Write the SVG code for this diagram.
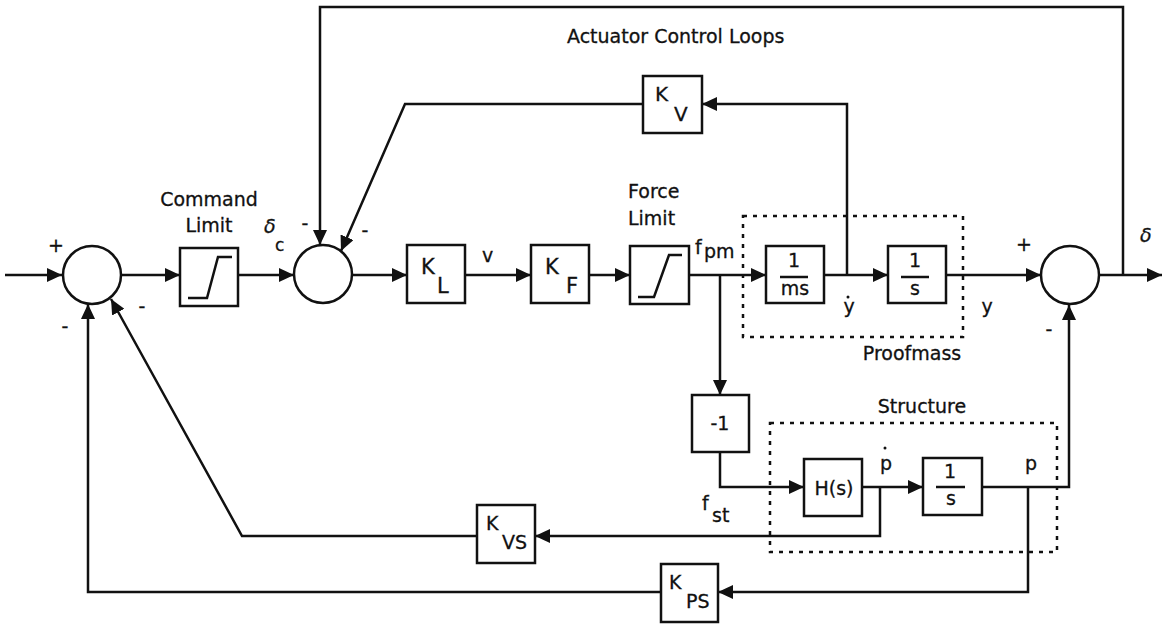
<svg xmlns="http://www.w3.org/2000/svg" width="1165" height="625" viewBox="0 0 1165 625">
<style>
.bx{fill:#fff;stroke:#111;stroke-width:2.5}
.sum{fill:#fff;stroke:#111;stroke-width:2.5}
.ln{fill:none;stroke:#111;stroke-width:2.5}
.dot{fill:none;stroke:#111;stroke-width:2.5;stroke-dasharray:4 6}
text{font-family:"DejaVu Sans",Verdana,sans-serif;font-size:19px;fill:#111;stroke:#111;stroke-width:0.3}
.sm{font-size:17px}
.k{font-size:21px}
.k2{font-size:20px}
.c{text-anchor:middle}
.g{font-family:"DejaVu Sans",sans-serif;font-style:italic}
</style>
<defs>
<marker id="ah" markerUnits="userSpaceOnUse" markerWidth="16" markerHeight="14" refX="15" refY="7" orient="auto">
<path d="M0,0 L15,7 L0,14 z" fill="#111"/>
</marker>
</defs>
<rect width="1165" height="625" fill="#fff"/>

<g id="connectors">
<path class="ln" d="M5,275 H62" marker-end="url(#ah)"/>
<path class="ln" d="M121,275 H180" marker-end="url(#ah)"/>
<path class="ln" d="M238,275 H294" marker-end="url(#ah)"/>
<path class="ln" d="M352,275 H407" marker-end="url(#ah)"/>
<path class="ln" d="M465,275 H531" marker-end="url(#ah)"/>
<path class="ln" d="M589,275 H630" marker-end="url(#ah)"/>
<path class="ln" d="M689,275 H766" marker-end="url(#ah)"/>
<path class="ln" d="M720,275 V395" marker-end="url(#ah)"/>
<path class="ln" d="M824,275 H888" marker-end="url(#ah)"/>
<path class="ln" d="M946,275 H1041" marker-end="url(#ah)"/>
<path class="ln" d="M1099,275 H1162" marker-end="url(#ah)"/>
<path class="ln" d="M1123,275 V7 H320 V245" marker-end="url(#ah)"/>
<path class="ln" d="M847,275 V104 H702" marker-end="url(#ah)"/>
<path class="ln" d="M643,104 H405 L341,251" marker-end="url(#ah)"/>
<path class="ln" d="M720,452 V487 H804" marker-end="url(#ah)"/>
<path class="ln" d="M862,487 H923" marker-end="url(#ah)"/>
<path class="ln" d="M880,487 V536 H535" marker-end="url(#ah)"/>
<path class="ln" d="M477,536 H242 L111,299" marker-end="url(#ah)"/>
<path class="ln" d="M1028,487 V592 H718" marker-end="url(#ah)"/>
<path class="ln" d="M661,592 H88 V304" marker-end="url(#ah)"/>
<path class="ln" d="M982,487 H1069 V305" marker-end="url(#ah)"/>
</g>

<g id="proofmass-group">
<rect class="dot" x="743" y="216" width="220" height="121"/>
<text x="912" y="360" class="c">Proofmass</text>
</g>
<g id="structure-group">
<rect class="dot" x="770" y="423" width="287" height="129"/>
<text x="922" y="413" class="c">Structure</text>
</g>

<g id="sum1">
<circle class="sum" cx="92" cy="275" r="29"/>
<text x="56" y="252" class="c">+</text>
<text x="65" y="333" class="c">-</text>
<text x="142" y="313" class="c">-</text>
</g>

<g id="cmd-limit">
<rect class="bx" x="180" y="248" width="58" height="58"/>
<polyline class="ln" points="188,298 207,298 218,257 232,257"/>
<text x="209" y="206" class="c">Command</text>
<text x="209" y="232" class="c">Limit</text>
</g>

<g id="delta-c">
<text x="264" y="233" class="g">δ</text>
<text x="275" y="251" class="sm">c</text>
</g>

<g id="sum2">
<circle class="sum" cx="323" cy="274" r="29"/>
<text x="305" y="230" class="c">-</text>
<text x="365" y="237" class="c">-</text>
</g>

<g id="KL">
<rect class="bx" x="407" y="245" width="58" height="58"/>
<text x="421" y="274" class="k">K</text>
<text x="437" y="293" class="k">L</text>
</g>
<text x="482" y="262">v</text>

<g id="KF">
<rect class="bx" x="531" y="245" width="58" height="58"/>
<text x="545" y="274" class="k">K</text>
<text x="566" y="293" class="k">F</text>
</g>

<g id="force-limit">
<rect class="bx" x="630" y="246" width="59" height="58"/>
<polyline class="ln" points="638,297 654,297 669,255 682,255"/>
<text x="628" y="198">Force</text>
<text x="628" y="225">Limit</text>
</g>
<g id="fpm">
<text x="695" y="254">f</text>
<text x="704" y="258">pm</text>
</g>

<g id="ms-block">
<rect class="bx" x="766" y="246" width="58" height="57"/>
<text x="794" y="267" class="c">1</text>
<line class="ln" x1="780" y1="277" x2="808" y2="277" stroke-width="3"/>
<text x="795" y="295" class="c">ms</text>
</g>
<g id="ydot">
<text x="849" y="313" class="c">y</text>
<circle cx="848" cy="297" r="1.5" fill="#111"/>
</g>

<g id="int1">
<rect class="bx" x="888" y="246" width="58" height="57"/>
<text x="915" y="267" class="c">1</text>
<line class="ln" x1="901" y1="277" x2="929" y2="277" stroke-width="3"/>
<text x="915" y="295" class="c">s</text>
</g>
<text x="987" y="313" class="c">y</text>

<g id="sum3">
<circle class="sum" cx="1070" cy="275" r="29"/>
<text x="1024" y="251" class="c">+</text>
<text x="1049" y="336" class="c">-</text>
</g>
<text x="1140" y="242" class="g">δ</text>

<g id="title">
<text x="567" y="43">Actuator Control Loops</text>
</g>

<g id="KV">
<rect class="bx" x="643" y="76" width="59" height="57"/>
<text x="655" y="101" class="k2">K</text>
<text x="674" y="121" class="k2">V</text>
</g>

<g id="neg1">
<rect class="bx" x="692" y="395" width="57" height="57"/>
<text x="720" y="430" class="c">-1</text>
</g>

<g id="fst">
<text x="702" y="510">f</text>
<text x="712" y="522">st</text>
</g>

<g id="Hs">
<rect class="bx" x="804" y="459" width="58" height="57"/>
<text x="834" y="495" class="c">H(s)</text>
</g>
<g id="pdot">
<text x="886" y="470" class="c">p</text>
<circle cx="885" cy="448" r="1.5" fill="#111"/>
</g>

<g id="int2">
<rect class="bx" x="923" y="458" width="59" height="57"/>
<text x="950" y="478" class="c">1</text>
<line class="ln" x1="936" y1="487" x2="965" y2="487" stroke-width="3"/>
<text x="951" y="505" class="c">s</text>
</g>
<text x="1031" y="470" class="c">p</text>

<g id="KVS">
<rect class="bx" x="477" y="505" width="58" height="58"/>
<text x="486" y="530">K</text>
<text x="502" y="549">VS</text>
</g>

<g id="KPS">
<rect class="bx" x="661" y="564" width="57" height="58"/>
<text x="669" y="589">K</text>
<text x="686" y="608">PS</text>
</g>
</svg>
